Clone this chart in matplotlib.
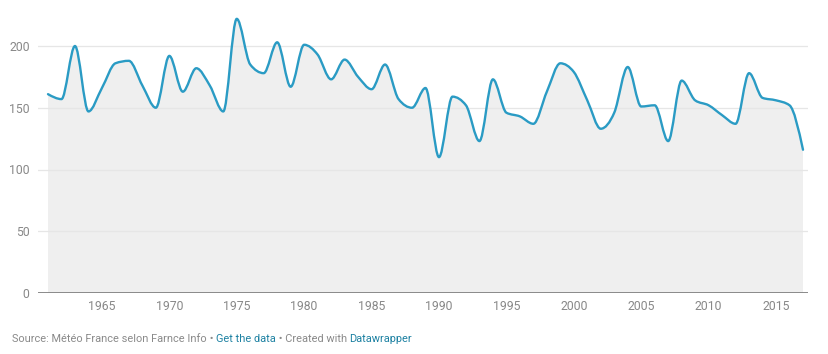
import numpy as np
import matplotlib
matplotlib.use("Agg")
import matplotlib.pyplot as plt
from matplotlib.path import Path
from matplotlib.patches import PathPatch

# ---- data ----
years = list(range(1961, 2018))
values = [161, 157, 200, 147, 166, 186, 188, 168, 150, 192,
          163, 182, 168, 147, 222, 185, 178, 203, 167, 201,
          193, 173, 189, 175, 165, 185, 157, 150, 166, 110,
          159, 152, 123, 173, 146, 143, 137, 163, 186, 179,
          156, 133, 146, 183, 151, 152, 123, 172, 156, 152,
          144, 137, 178, 158, 156, 152, 116]
y_ticks = [0, 50, 100, 150, 200]
x_ticks = [1965, 1970, 1975, 1980, 1985, 1990, 1995, 2000, 2005, 2010, 2015]
source_parts = [("Source: Météo France selon Farnce Info", "#8a8a8a"),
                (" • ", "#8a8a8a"),
                ("Get the data", "#1d81a2"),
                (" • Created with ", "#8a8a8a"),
                ("Datawrapper", "#1d81a2")]

LINE = "#2a9bc4"
FILL = "#efefef"
GRID = "#e6e6e6"
LABEL = "#888888"

plt.rcParams['font.family'] = ['Roboto', 'DejaVu Sans']


def monotone_path(x, y, close_base=None):
    x = np.asarray(x, float)
    y = np.asarray(y, float)
    n = len(x)
    h = np.diff(x)
    s = np.diff(y) / h
    t = np.zeros(n)
    for i in range(1, n - 1):
        s0, s1 = s[i - 1], s[i]
        p = (s0 * h[i] + s1 * h[i - 1]) / (h[i - 1] + h[i])
        t[i] = (np.sign(s0) + np.sign(s1)) * min(abs(s0), abs(s1), 0.5 * abs(p))
    t[0] = (3 * s[0] - t[1]) / 2
    t[-1] = (3 * s[-1] - t[-2]) / 2
    verts = [(x[0], y[0])]
    codes = [Path.MOVETO]
    for i in range(n - 1):
        dx = (x[i + 1] - x[i]) / 3
        verts += [(x[i] + dx, y[i] + dx * t[i]),
                  (x[i + 1] - dx, y[i + 1] - dx * t[i + 1]),
                  (x[i + 1], y[i + 1])]
        codes += [Path.CURVE4] * 3
    if close_base is not None:
        verts += [(x[-1], close_base), (x[0], close_base), (x[0], y[0])]
        codes += [Path.LINETO, Path.LINETO, Path.CLOSEPOLY]
    return Path(verts, codes)


W, H = 829, 354
fig = plt.figure(figsize=(W / 100, H / 100), dpi=100)
ax = fig.add_axes([38 / W, (H - 293) / H, (808 - 38) / W, (293 - 9) / H])
ax.set_xlim(1961 - 10 / 13.48, 2017 + 5 / 13.48)
ax.set_ylim(0, 284 / 1.235)

ax.add_patch(PathPatch(monotone_path(years, values, close_base=0),
                       facecolor=FILL, edgecolor="none", zorder=1))
for v in y_ticks[1:]:
    ax.axhline(v, color=GRID, lw=0.9, zorder=2)
ax.add_patch(PathPatch(monotone_path(years, values), facecolor="none",
                       edgecolor=LINE, lw=1.7, zorder=4, capstyle="round",
                       joinstyle="round"))
ax.axhline(0, color="#808080", lw=2.0, zorder=5)

for sp in ax.spines.values():
    sp.set_visible(False)
ax.set_yticks(y_ticks)
ax.set_yticklabels([str(v) for v in y_ticks])
ax.set_xticks(x_ticks)
ax.set_xticklabels([str(v) for v in x_ticks])
ax.tick_params(axis="both", length=0, colors=LABEL, labelsize=8.8)
ax.tick_params(axis="y", pad=6)
ax.tick_params(axis="x", pad=5)
ax.set_facecolor("none")

# footer
fig.canvas.draw()
renderer = fig.canvas.get_renderer()
xpos = 12
for txt, col in source_parts:
    t = fig.text(xpos / W, (H - 339) / H, txt, color=col, fontsize=7.9,
                 va="center", ha="left")
    bb = t.get_window_extent(renderer)
    xpos += bb.width

fig.savefig("out.png", dpi=100)
